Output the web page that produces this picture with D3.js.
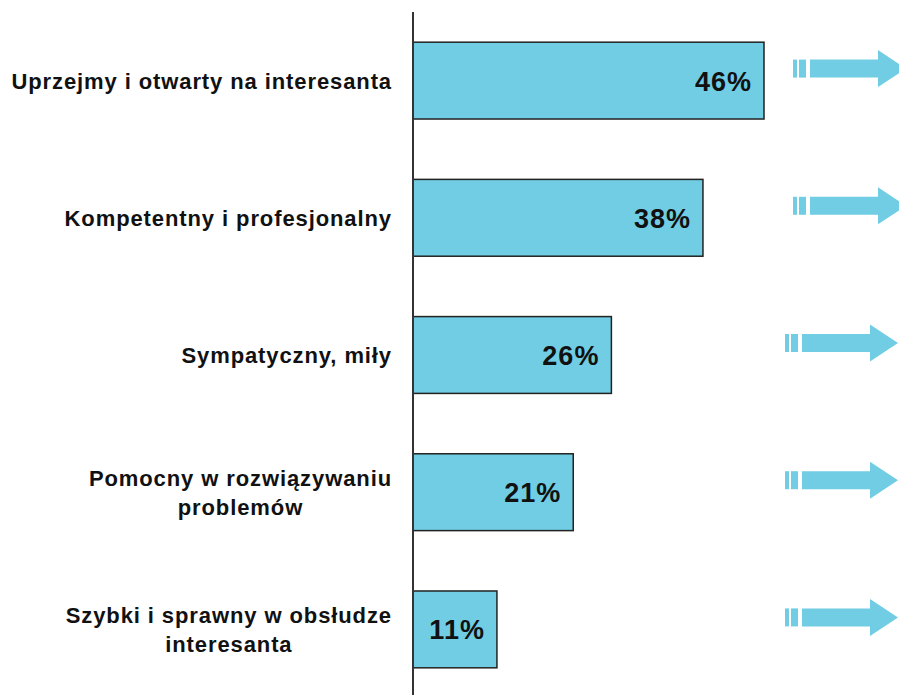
<!DOCTYPE html>
<html>
<head>
<meta charset="utf-8">
<title>Cechy urzędnika</title>
<script src="https://cdn.jsdelivr.net/npm/d3@7"></script>
<style>
  body { margin: 0; background: #fff; }
  text { font-family: "Liberation Sans", Arial, sans-serif; font-weight: bold; fill: #111; }
</style>
</head>
<body>
<svg width="899" height="695"></svg>
<script>
  // dane
  var categories = [
    ["Uprzejmy i otwarty na interesanta"],
    ["Kompetentny i profesjonalny"],
    ["Sympatyczny, miły"],
    ["Pomocny w rozwiązywaniu", "problemów"],
    ["Szybki i sprawny w obsłudze", "interesanta"]
  ];
  var values = [46, 38, 26, 21, 11];
  var valueLabels = ["46%", "38%", "26%", "21%", "11%"];

  var svg = d3.select("svg");
  var barColor = "#70cde4";
  var axisX = 413;

  var x = d3.scaleLinear()
    .domain([0, 46])
    .range([axisX, 764]);

  var y = d3.scaleBand()
    .domain(d3.range(values.length))
    .range([12, 698])
    .paddingInner(0.44)
    .paddingOuter(0.22);

  // słupki
  svg.append("g").selectAll("rect")
    .data(values)
    .enter()
    .append("rect")
    .attr("x", x(0))
    .attr("y", function(d, i) { return y(i); })
    .attr("width", function(d) { return x(d) - x(0); })
    .attr("height", y.bandwidth())
    .attr("fill", barColor)
    .attr("stroke", "#222")
    .attr("stroke-width", 1.5);

  // oś pionowa
  svg.append("line")
    .attr("x1", axisX).attr("x2", axisX)
    .attr("y1", 12).attr("y2", 695)
    .attr("stroke", "#333")
    .attr("stroke-width", 2);

  // wartości na słupkach
  svg.append("g").selectAll("text")
    .data(values)
    .enter()
    .append("text")
    .attr("x", function(d) { return x(d) - 12; })
    .attr("y", function(d, i) { return y(i) + y.bandwidth() / 2 + 10; })
    .attr("text-anchor", "end")
    .style("font-size", "27px")
    .style("letter-spacing", "1px")
    .text(function(d, i) { return valueLabels[i]; });

  // etykiety kategorii (wyśrodkowane wiersze, prawa krawędź przy 392)
  var lineH = 29;
  categories.forEach(function(lines, i) {
    var cy = y(i) + y.bandwidth() / 2;
    var g = svg.append("g");
    var ts = g.selectAll("text")
      .data(lines)
      .enter()
      .append("text")
      .attr("y", function(d, j) { return cy + 8 + (j - (lines.length - 1) / 2) * lineH; })
      .attr("text-anchor", "middle")
      .style("font-size", "22px")
      .style("letter-spacing", "0.9px")
      .text(function(d) { return d; });
    var maxW = d3.max(ts.nodes(), function(n) { return n.getComputedTextLength(); });
    ts.attr("x", 392 - maxW / 2);
  });

  // strzałki po prawej
  var arrows = svg.append("g").selectAll("g")
    .data(values)
    .enter()
    .append("g")
    .attr("transform", function(d, i) {
      var x0 = i < 2 ? 793 : 785;
      return "translate(" + x0 + "," + (y(i) + y.bandwidth() / 2 - 12) + ")";
    })
    .attr("fill", barColor);

  arrows.append("rect").attr("x", 0).attr("y", -9).attr("width", 4).attr("height", 18);
  arrows.append("rect").attr("x", 6).attr("y", -9).attr("width", 7).attr("height", 18);
  arrows.append("path")
    .attr("d", "M17,-9 L85,-9 L85,-18.5 L113,0 L85,18.5 L85,9 L17,9 Z");
</script>
</body>
</html>
